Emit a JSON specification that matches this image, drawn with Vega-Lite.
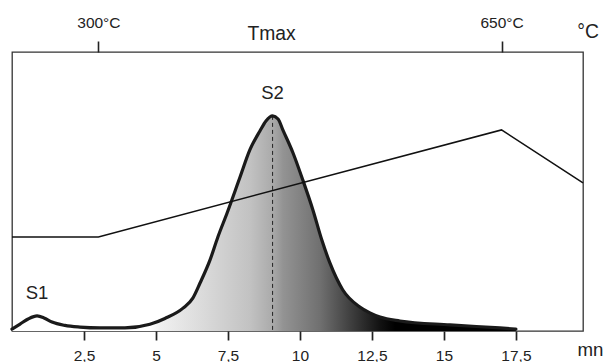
{
  "$schema": "https://vega.github.io/schema/vega-lite/v6.json",
  "width": 571,
  "height": 279,
  "autosize": "none",
  "padding": {"left": 12, "top": 52, "right": 21, "bottom": 31},
  "config": {
    "view": {"stroke": "#333333", "strokeWidth": 1.3},
    "font": "Liberation Sans",
    "axis": {"grid": false},
    "locale": {
      "number": {"decimal": ",", "thousands": " ", "grouping": [3], "currency": ["", " €"]}
    }
  },
  "datasets": {
    "signal": [
      {"t": 0, "s": 0.7}, {"t": 0.28, "s": 2.5}, {"t": 0.56, "s": 4.3}, {"t": 0.87, "s": 5.4},
      {"t": 1.11, "s": 4.7}, {"t": 1.39, "s": 3.2}, {"t": 1.84, "s": 2.0}, {"t": 2.36, "s": 1.4},
      {"t": 3.06, "s": 1.1}, {"t": 3.92, "s": 1.1}, {"t": 4.79, "s": 2.4}, {"t": 5.31, "s": 4.5},
      {"t": 5.94, "s": 8.2}, {"t": 6.28, "s": 11.8}, {"t": 6.53, "s": 17.2}, {"t": 6.875, "s": 25.4},
      {"t": 7.15, "s": 33.7}, {"t": 7.47, "s": 42.3}, {"t": 7.92, "s": 55.2}, {"t": 8.26, "s": 64.9},
      {"t": 8.61, "s": 71.7}, {"t": 8.82, "s": 75.3}, {"t": 9.05, "s": 77.1}, {"t": 9.24, "s": 76.0},
      {"t": 9.41, "s": 72.0}, {"t": 9.76, "s": 63.8}, {"t": 10.1, "s": 54.1}, {"t": 10.45, "s": 43.4},
      {"t": 10.76, "s": 32.6}, {"t": 11.04, "s": 24.4}, {"t": 11.49, "s": 14.7}, {"t": 12.08, "s": 8.6},
      {"t": 12.43, "s": 6.5}, {"t": 12.78, "s": 5.0}, {"t": 13.47, "s": 3.6}, {"t": 15.21, "s": 2.2},
      {"t": 16.94, "s": 1.1}, {"t": 17.5, "s": 0.7}
    ],
    "temp": [
      {"t": 0, "temp": 300}, {"t": 3, "temp": 300}, {"t": 17, "temp": 650}, {"t": 19.83, "temp": 477}
    ],
    "peaks": [
      {"t": 0.87, "s": 5.4, "label": "S1"},
      {"t": 9.05, "s": 77.1, "label": "S2"}
    ]
  },
  "layer": [
    {
      "data": {"name": "signal"},
      "mark": {
        "type": "area",
        "interpolate": "monotone",
        "color": {
          "gradient": "linear", "x1": 0, "x2": 1, "y1": 0, "y2": 0,
          "stops": [
            {"offset": 0, "color": "#ffffff"},
            {"offset": 0.274, "color": "#ffffff"},
            {"offset": 0.294, "color": "#f0f0f0"},
            {"offset": 0.373, "color": "#dcdcdc"},
            {"offset": 0.472, "color": "#c2c2c2"},
            {"offset": 0.516, "color": "#ababab"},
            {"offset": 0.538, "color": "#939393"},
            {"offset": 0.611, "color": "#707070"},
            {"offset": 0.671, "color": "#404040"},
            {"offset": 0.73, "color": "#121212"},
            {"offset": 0.76, "color": "#000000"},
            {"offset": 1, "color": "#000000"}
          ]
        }
      },
      "encoding": {
        "x": {
          "field": "t", "type": "quantitative",
          "scale": {"domain": [0, 19.83], "nice": false, "zero": false},
          "axis": {
            "orient": "bottom",
            "values": [2.5, 5, 7.5, 10, 12.5, 15, 17.5],
            "format": ".1~f",
            "domain": false,
            "tickSize": 9, "tickWidth": 1.7, "tickColor": "#222222",
            "labelFontSize": 15.5, "labelColor": "#222222", "labelPadding": 8,
            "labelFlush": false,
            "title": "mn", "titleX": 578, "titleY": 24, "titleAlign": "center",
            "titleBaseline": "alphabetic", "titleFontSize": 18.7, "titleFontWeight": "normal",
            "titleColor": "#222222"
          }
        },
        "y": {"field": "s", "type": "quantitative", "scale": {"domain": [0, 100]}, "axis": null}
      }
    },
    {
      "data": {"name": "peaks"},
      "transform": [{"filter": "datum.label == 'S2'"}],
      "mark": {"type": "rule", "strokeDash": [4, 3], "strokeWidth": 1, "color": "#222222"},
      "encoding": {
        "x": {"field": "t", "type": "quantitative", "scale": {"domain": [0, 19.83], "nice": false, "zero": false}, "axis": null},
        "y": {"field": "s", "type": "quantitative", "scale": {"domain": [0, 100]}, "axis": null},
        "y2": {"datum": 0}
      }
    },
    {
      "data": {"name": "signal"},
      "mark": {"type": "line", "interpolate": "monotone", "strokeWidth": 3.2, "color": "#1a1a1a", "strokeCap": "round"},
      "encoding": {
        "x": {"field": "t", "type": "quantitative", "scale": {"domain": [0, 19.83], "nice": false, "zero": false}, "axis": null},
        "y": {"field": "s", "type": "quantitative", "scale": {"domain": [0, 100]}, "axis": null}
      }
    },
    {
      "data": {"name": "temp"},
      "mark": {"type": "line", "strokeWidth": 1.5, "color": "#111111"},
      "encoding": {
        "x": {
          "field": "t", "type": "quantitative",
          "scale": {"domain": [0, 19.83], "nice": false, "zero": false},
          "axis": {
            "orient": "top",
            "values": [3, 17],
            "labelExpr": "datum.value == 3 ? '300°C' : '650°C'",
            "domain": false,
            "tickSize": 11, "tickWidth": 1.6, "tickColor": "#222222",
            "labelFontSize": 15.5, "labelColor": "#222222", "labelPadding": 14,
            "labelBaseline": "alphabetic", "labelDx": 6, "labelFlush": false,
            "title": "Tmax", "titleX": 259, "titleY": -13, "titleAlign": "center",
            "titleBaseline": "alphabetic", "titleFontSize": 19.3, "titleFontWeight": "normal",
            "titleColor": "#222222"
          }
        },
        "y": {
          "field": "temp", "type": "quantitative",
          "scale": {"domain": [-8, 905], "nice": false, "zero": false},
          "axis": {
            "orient": "right", "labels": false, "ticks": false, "domain": false,
            "title": "°C", "titleAngle": 0, "titleX": 4.5, "titleY": -14.7,
            "titleAlign": "center", "titleBaseline": "alphabetic",
            "titleFontSize": 19.3, "titleFontWeight": "normal", "titleColor": "#222222"
          }
        }
      }
    },
    {
      "data": {"name": "peaks"},
      "mark": {"type": "text", "dy": -16.5, "fontSize": 18.5, "baseline": "alphabetic", "align": "center", "color": "#222222"},
      "encoding": {
        "x": {"field": "t", "type": "quantitative", "scale": {"domain": [0, 19.83], "nice": false, "zero": false}, "axis": null},
        "y": {"field": "s", "type": "quantitative", "scale": {"domain": [0, 100]}, "axis": null},
        "text": {"field": "label"}
      }
    }
  ],
  "resolve": {"scale": {"y": "independent"}, "axis": {"x": "independent", "y": "independent"}}
}
